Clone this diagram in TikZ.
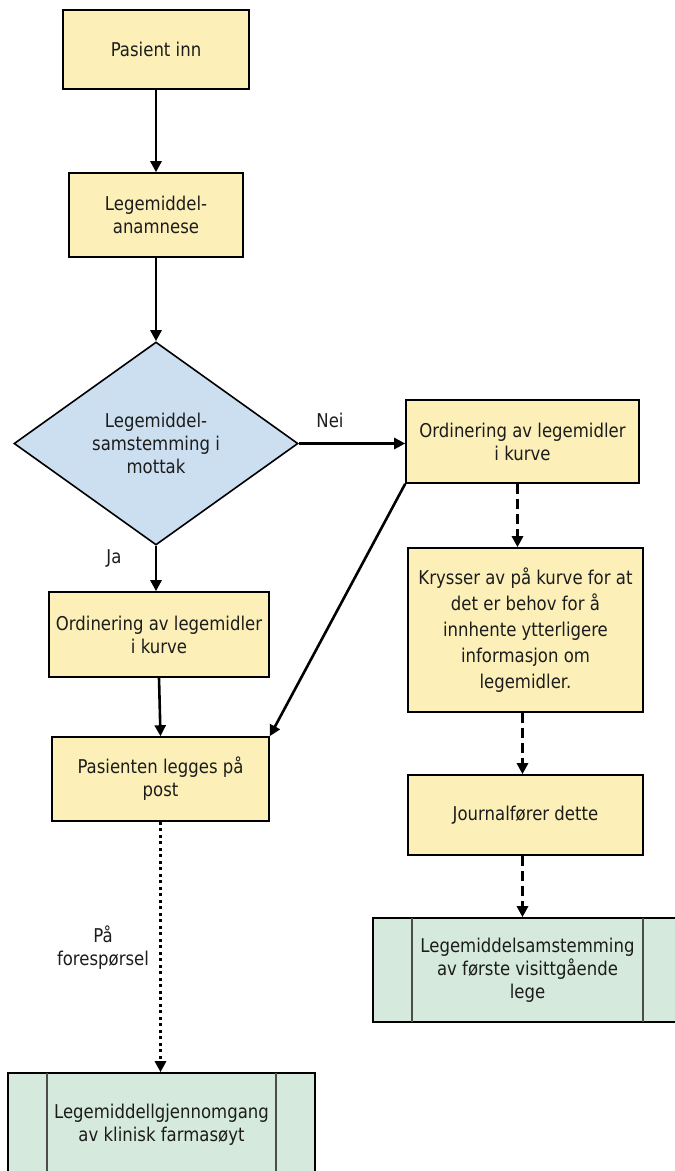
\documentclass[tikz,border=0pt]{standalone}
\usepackage{fontspec}
\setmainfont{DejaVu Sans}[FakeStretch=0.87]
\usetikzlibrary{arrows.meta,shapes.geometric}
\definecolor{procfill}{HTML}{FCF0B8}
\definecolor{decfill}{HTML}{CCDFF0}
\definecolor{subfill}{HTML}{D5EADD}
\definecolor{inktext}{HTML}{1C1C1C}
\begin{document}
\begin{tikzpicture}[x=1pt,y=-1pt,
  every node/.style={font=\fontsize{19}{23}\selectfont, text=inktext},
  procbox/.style={draw=black, line width=1.6pt, fill=procfill, align=center, inner sep=0pt},
  subproc/.style={draw=black, line width=1.6pt, fill=subfill, align=center, inner sep=0pt},
  decision/.style={diamond, draw=black, line width=1.6pt, fill=decfill, inner sep=0pt},
  flow/.style={line width=2.6pt, -{Triangle[length=11pt,width=11pt]}},
  dashflow/.style={line width=3pt, dash pattern=on 10pt off 5pt, -{Triangle[length=11pt,width=11pt]}},
  dotflow/.style={line width=3pt, dash pattern=on 3pt off 3.5pt, -{Triangle[length=11pt,width=11pt]}},
  edgelabel/.style={align=center, inner sep=0pt}
]
\useasboundingbox (0,0) rectangle (675,1171);
\clip (0,0) rectangle (675,1171);

% left column
\node[procbox, minimum width=186pt, minimum height=79pt] (inn) at (156,49.5) {Pasient inn};
\node[procbox, minimum width=174pt, minimum height=84pt] (anam) at (156,215) {Legemiddel-\\anamnese};
\node[decision, minimum width=284pt, minimum height=203pt] (dec) at (156,443.5) {};
\node[align=center, inner sep=0pt] (dectext) at (156,443) {Legemiddel-\\samstemming i\\mottak};
\node[procbox, minimum width=220pt, minimum height=85pt] (ordL) at (159,634.5) {Ordinering av legemidler\\i kurve};
\node[procbox, minimum width=217pt, minimum height=84pt] (post) at (160.5,779) {Pasienten legges på\\post};
\node[subproc, minimum width=307pt, minimum height=104pt] (farm) at (161.5,1125) {Legemiddellgjennomgang\\av klinisk farmasøyt};
\draw[line width=1.6pt, draw=black!70] (47,1073) -- (47,1177) (276,1073) -- (276,1177);

% right column
\node[procbox, minimum width=233pt, minimum height=83pt] (ordR) at (522.5,441.5) {Ordinering av legemidler\\i kurve};
\node[procbox, minimum width=235pt, minimum height=164pt, font=\fontsize{19}{26}\selectfont] (kryss) at (525.5,630) {Krysser av på kurve for at\\det er behov for å\\innhente ytterligere\\informasjon om\\legemidler.};
\node[procbox, minimum width=235pt, minimum height=80pt] (journ) at (525.5,815) {Journalfører dette};
\node[subproc, minimum width=309pt, minimum height=104pt] (visitt) at (527.5,970) {Legemiddelsamstemming\\av første visittgående\\lege};
\draw[line width=1.6pt, draw=black!70] (412,918) -- (412,1022) (643,918) -- (643,1022);

% connectors
\draw[flow] (inn.south) -- (anam.north);
\draw[flow] (anam.south) -- (dec.north);
\draw[flow] (dec.east) -- (dec.east -| ordR.west);
\draw[flow] (dec.south) -- (dec.south |- ordL.north);
\draw[flow] (ordL.south) -- (post.north);
\draw[flow] (ordR.south west) -- (post.north east);
\draw[dashflow] ([xshift=-5pt]ordR.south) -- ([xshift=-5pt]ordR.south |- kryss.north);
\draw[dashflow] ([xshift=-3pt]kryss.south) -- ([xshift=-3pt]kryss.south |- journ.north);
\draw[dashflow] ([xshift=-3pt]journ.south) -- ([xshift=-3pt]journ.south |- visitt.north);
\draw[dotflow] (post.south) -- (post.south |- farm.north);

% edge labels
\node[edgelabel] (nei) at (330,420) {Nei};
\node[edgelabel] (ja) at (114,558) {Ja};
\node[edgelabel] (foresp) at (103,948) {På\\forespørsel};
\end{tikzpicture}
\end{document}
